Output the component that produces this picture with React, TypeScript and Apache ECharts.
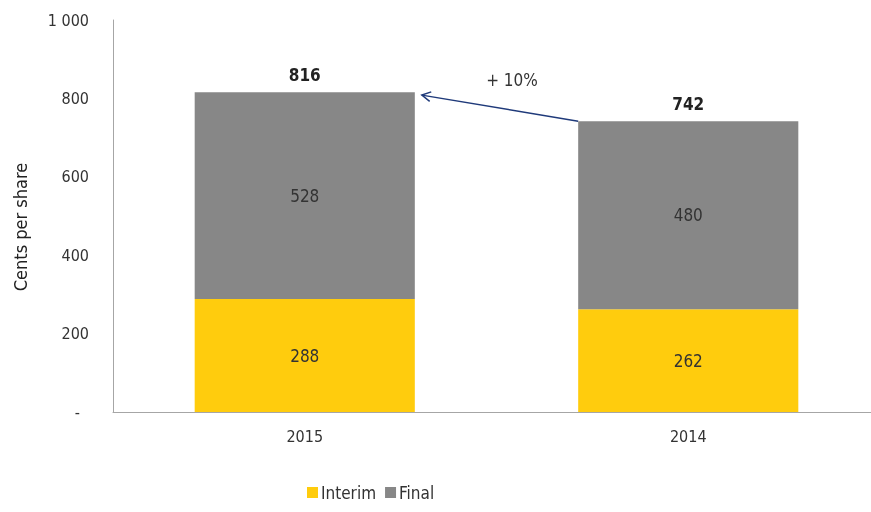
import React, { useEffect, useRef } from "react";
import * as echarts from "echarts";

const categories = ["2015", "2014"];
const interimValues = [288, 262];
const finalValues = [528, 480];
const totals = [816, 742];
const growthLabel = "+ 10%";

const FONT = "'Liberation Sans Narrow', 'Arial Narrow', 'DejaVu Sans Condensed', Roboto, sans-serif";

export default function App() {
  const ref = useRef<HTMLDivElement>(null);
  useEffect(() => {
    if (!ref.current) return;
    const chart = echarts.init(ref.current, null, { renderer: "svg" });
    chart.setOption({
      animation: false,
      textStyle: { fontFamily: FONT },
      grid: { left: 113, right: 0, top: 20, bottom: 100, outerBoundsMode: "none" },
      legend: {
        left: 302,
        bottom: 6,
        itemWidth: 11,
        itemHeight: 11,
        itemGap: 9,
        icon: "rect",
        data: ["Interim", "Final"],
        textStyle: { fontFamily: FONT, fontSize: 17, color: "#333", padding: [0, 0, 0, -2] },
      },
      xAxis: {
        type: "category",
        data: categories,
        axisLine: { lineStyle: { color: "#a6a6a6", width: 1 } },
        axisTick: { show: false },
        axisLabel: { fontFamily: FONT, fontSize: 16, color: "#333", margin: 16 },
      },
      yAxis: {
        type: "value",
        min: 0,
        max: 1000,
        interval: 200,
        name: "Cents per share",
        nameLocation: "middle",
        nameGap: 84,
        nameTextStyle: { fontFamily: FONT, fontSize: 18, color: "#222", padding: [0, 22, 0, 0] },
        axisLine: { show: true, lineStyle: { color: "#a6a6a6", width: 1 } },
        axisTick: { show: false },
        splitLine: { show: false },
        axisLabel: {
          fontFamily: FONT,
          fontSize: 16,
          color: "#333",
          margin: 24,
          formatter: (v: number) => (v === 0 ? "{d|-}" : v >= 1000 ? "1 000" : String(v)),
          rich: { d: { fontFamily: FONT, fontSize: 16, color: "#333", padding: [0, 9, 0, 0] } },
        },
      },
      series: [
        {
          name: "Interim",
          type: "bar",
          stack: "s",
          barWidth: "57.4%",
          data: interimValues,
          itemStyle: { color: "#FFCC0D" },
          label: { show: true, position: "inside", fontFamily: FONT, fontSize: 17, color: "#333" },
        },
        {
          name: "Final",
          type: "bar",
          stack: "s",
          data: finalValues,
          itemStyle: { color: "#878787" },
          label: { show: true, position: "inside", fontFamily: FONT, fontSize: 17, color: "#333" },
        },
        {
          name: "Total",
          type: "bar",
          stack: "s",
          data: totals.map(() => 0),
          itemStyle: { color: "transparent" },
          label: {
            show: true,
            position: "top",
            distance: 9,
            fontFamily: FONT,
            fontSize: 17,
            fontWeight: "bold",
            color: "#222",
            formatter: (p: any) => String(totals[p.dataIndex]),
          },
        },
      ],
    });

    const c0 = chart.convertToPixel({ xAxisIndex: 0 }, categories[0]) as number;
    const c1 = chart.convertToPixel({ xAxisIndex: 0 }, categories[1]) as number;
    const band = c1 - c0;
    const half = (band * 0.574) / 2;
    const sx = c1 - half;
    const sy = chart.convertToPixel({ yAxisIndex: 0 }, totals[1]) as number;
    const ex = c0 + half + 7;
    const ey = (chart.convertToPixel({ yAxisIndex: 0 }, totals[0]) as number) + 3;
    const ang = Math.atan2(sy - ey, sx - ex);
    const L = 10;
    const spread = 0.5;
    const p1 = [ex + L * Math.cos(ang + spread), ey + L * Math.sin(ang + spread)];
    const p2 = [ex + L * Math.cos(ang - spread), ey + L * Math.sin(ang - spread)];
    chart.setOption({
      graphic: [
        {
          type: "line",
          shape: { x1: sx, y1: sy, x2: ex, y2: ey },
          style: { stroke: "#1F3A7A", lineWidth: 1.5 },
        },
        {
          type: "polyline",
          shape: { points: [p1, [ex, ey], p2] },
          style: { stroke: "#1F3A7A", lineWidth: 1.5, fill: null },
        },
        {
          type: "text",
          x: (sx + ex) / 2 + 12,
          y: ey - 15,
          style: {
            text: growthLabel,
            font: `17px ${FONT}`,
            fill: "#333",
            textAlign: "center",
            textVerticalAlign: "middle",
          },
        },
      ],
    });
    return () => chart.dispose();
  }, []);
  return (
    <div
      ref={ref}
      style={{ position: "fixed", left: 0, top: 0, width: 880, height: 512 }}
    />
  );
}
